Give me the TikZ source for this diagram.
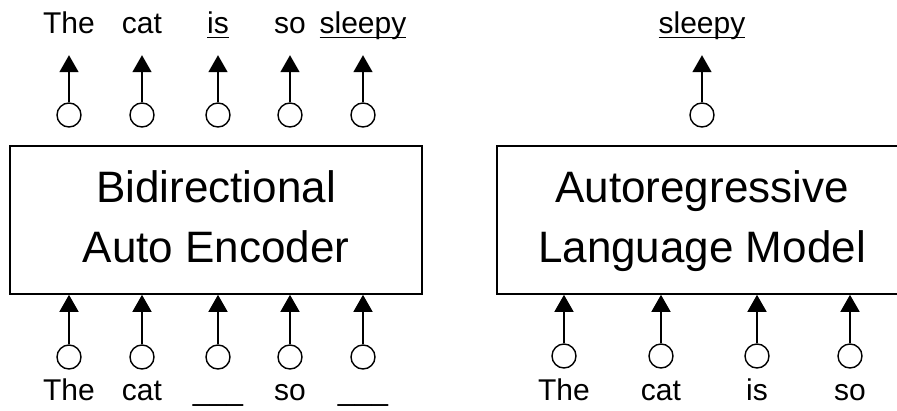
\documentclass[tikz,border=0pt]{standalone}
\usepackage{fontspec}
\setmainfont{Liberation Sans}
\usetikzlibrary{arrows.meta}
\newcommand\uword[1]{\setbox0\hbox{#1}\rlap{\rule[-5pt]{\wd0}{1.4pt}}\box0}

\begin{document}
\begin{tikzpicture}[x=1pt,y=-1pt]
\tikzset{
  modelbox/.style={draw,line width=1.6pt,inner sep=0pt,align=center,font=\fontsize{44}{60}\selectfont},
  tokennode/.style={circle,draw,line width=1.4pt,minimum size=24pt,inner sep=0pt},
  wordnode/.style={inner sep=0pt,anchor=base,text height=22pt,text depth=7pt,font=\fontsize{30}{36}\selectfont},
  flow/.style={-{Triangle[length=17pt,width=19pt]},line width=1.6pt}
}
\useasboundingbox (0,0) rectangle (897,410);
% the two models
\node[modelbox,minimum width=412pt,minimum height=148pt] (n_bae) at (216,220) {Bidirectional\strut\\Auto Encoder\strut};
\node[modelbox,minimum width=430pt,minimum height=148pt] (n_alm) at (712,220) {};
\node[font=\fontsize{44}{60}\selectfont,align=center,inner sep=0pt] (n_alm_text) at (702,220) {Autoregressive\strut\\Language Model\strut};
% auto encoder: inputs
\node[tokennode] (n_l_in1) at (69,357) {};
\node[tokennode] (n_l_in2) at (142,357) {};
\node[tokennode] (n_l_in3) at (218,357) {};
\node[tokennode] (n_l_in4) at (290,357) {};
\node[tokennode] (n_l_in5) at (363,357) {};
\node[wordnode] (n_l_iw1) at (69,400) {The};
\node[wordnode] (n_l_iw2) at (142,400) {cat};
\node[wordnode] (n_l_iw3) at (218,400) {\_\_\_};
\node[wordnode] (n_l_iw4) at (290,400) {so};
\node[wordnode] (n_l_iw5) at (363,400) {\_\_\_};
% auto encoder: outputs
\node[tokennode] (n_l_out1) at (69,115) {};
\node[tokennode] (n_l_out2) at (142,115) {};
\node[tokennode] (n_l_out3) at (218,115) {};
\node[tokennode] (n_l_out4) at (290,115) {};
\node[tokennode] (n_l_out5) at (363,115) {};
\node[wordnode] (n_l_ow1) at (69,33) {The};
\node[wordnode] (n_l_ow2) at (142,33) {cat};
\node[wordnode] (n_l_ow3) at (218,33) {\uword{is}};
\node[wordnode] (n_l_ow4) at (290,33) {so};
\node[wordnode] (n_l_ow5) at (363,33) {\uword{sleepy}};
% language model: inputs and output
\node[tokennode] (n_r_in1) at (564,356) {};
\node[tokennode] (n_r_in2) at (661,356) {};
\node[tokennode] (n_r_in3) at (757,356) {};
\node[tokennode] (n_r_in4) at (850,356) {};
\node[wordnode] (n_r_iw1) at (564,400) {The};
\node[wordnode] (n_r_iw2) at (661,400) {cat};
\node[wordnode] (n_r_iw3) at (757,400) {is};
\node[wordnode] (n_r_iw4) at (850,400) {so};
\node[tokennode] (n_r_out1) at (702,115) {};
\node[wordnode] (n_r_ow1) at (702,33) {\uword{sleepy}};
% arrows
\draw[flow] (n_l_in1.north) -- (n_l_in1.north |- n_bae.south);
\draw[flow] (n_l_in2.north) -- (n_l_in2.north |- n_bae.south);
\draw[flow] (n_l_in3.north) -- (n_l_in3.north |- n_bae.south);
\draw[flow] (n_l_in4.north) -- (n_l_in4.north |- n_bae.south);
\draw[flow] (n_l_in5.north) -- (n_l_in5.north |- n_bae.south);
\draw[flow,shorten >=15pt] (n_l_out1.north) -- (n_l_out1.north |- n_l_ow1.south);
\draw[flow,shorten >=15pt] (n_l_out2.north) -- (n_l_out2.north |- n_l_ow2.south);
\draw[flow,shorten >=15pt] (n_l_out3.north) -- (n_l_out3.north |- n_l_ow3.south);
\draw[flow,shorten >=15pt] (n_l_out4.north) -- (n_l_out4.north |- n_l_ow4.south);
\draw[flow,shorten >=15pt] (n_l_out5.north) -- (n_l_out5.north |- n_l_ow5.south);
\draw[flow] (n_r_in1.north) -- (n_r_in1.north |- n_alm.south);
\draw[flow] (n_r_in2.north) -- (n_r_in2.north |- n_alm.south);
\draw[flow] (n_r_in3.north) -- (n_r_in3.north |- n_alm.south);
\draw[flow] (n_r_in4.north) -- (n_r_in4.north |- n_alm.south);
\draw[flow,shorten >=15pt] (n_r_out1.north) -- (n_r_out1.north |- n_r_ow1.south);
\end{tikzpicture}
\end{document}
